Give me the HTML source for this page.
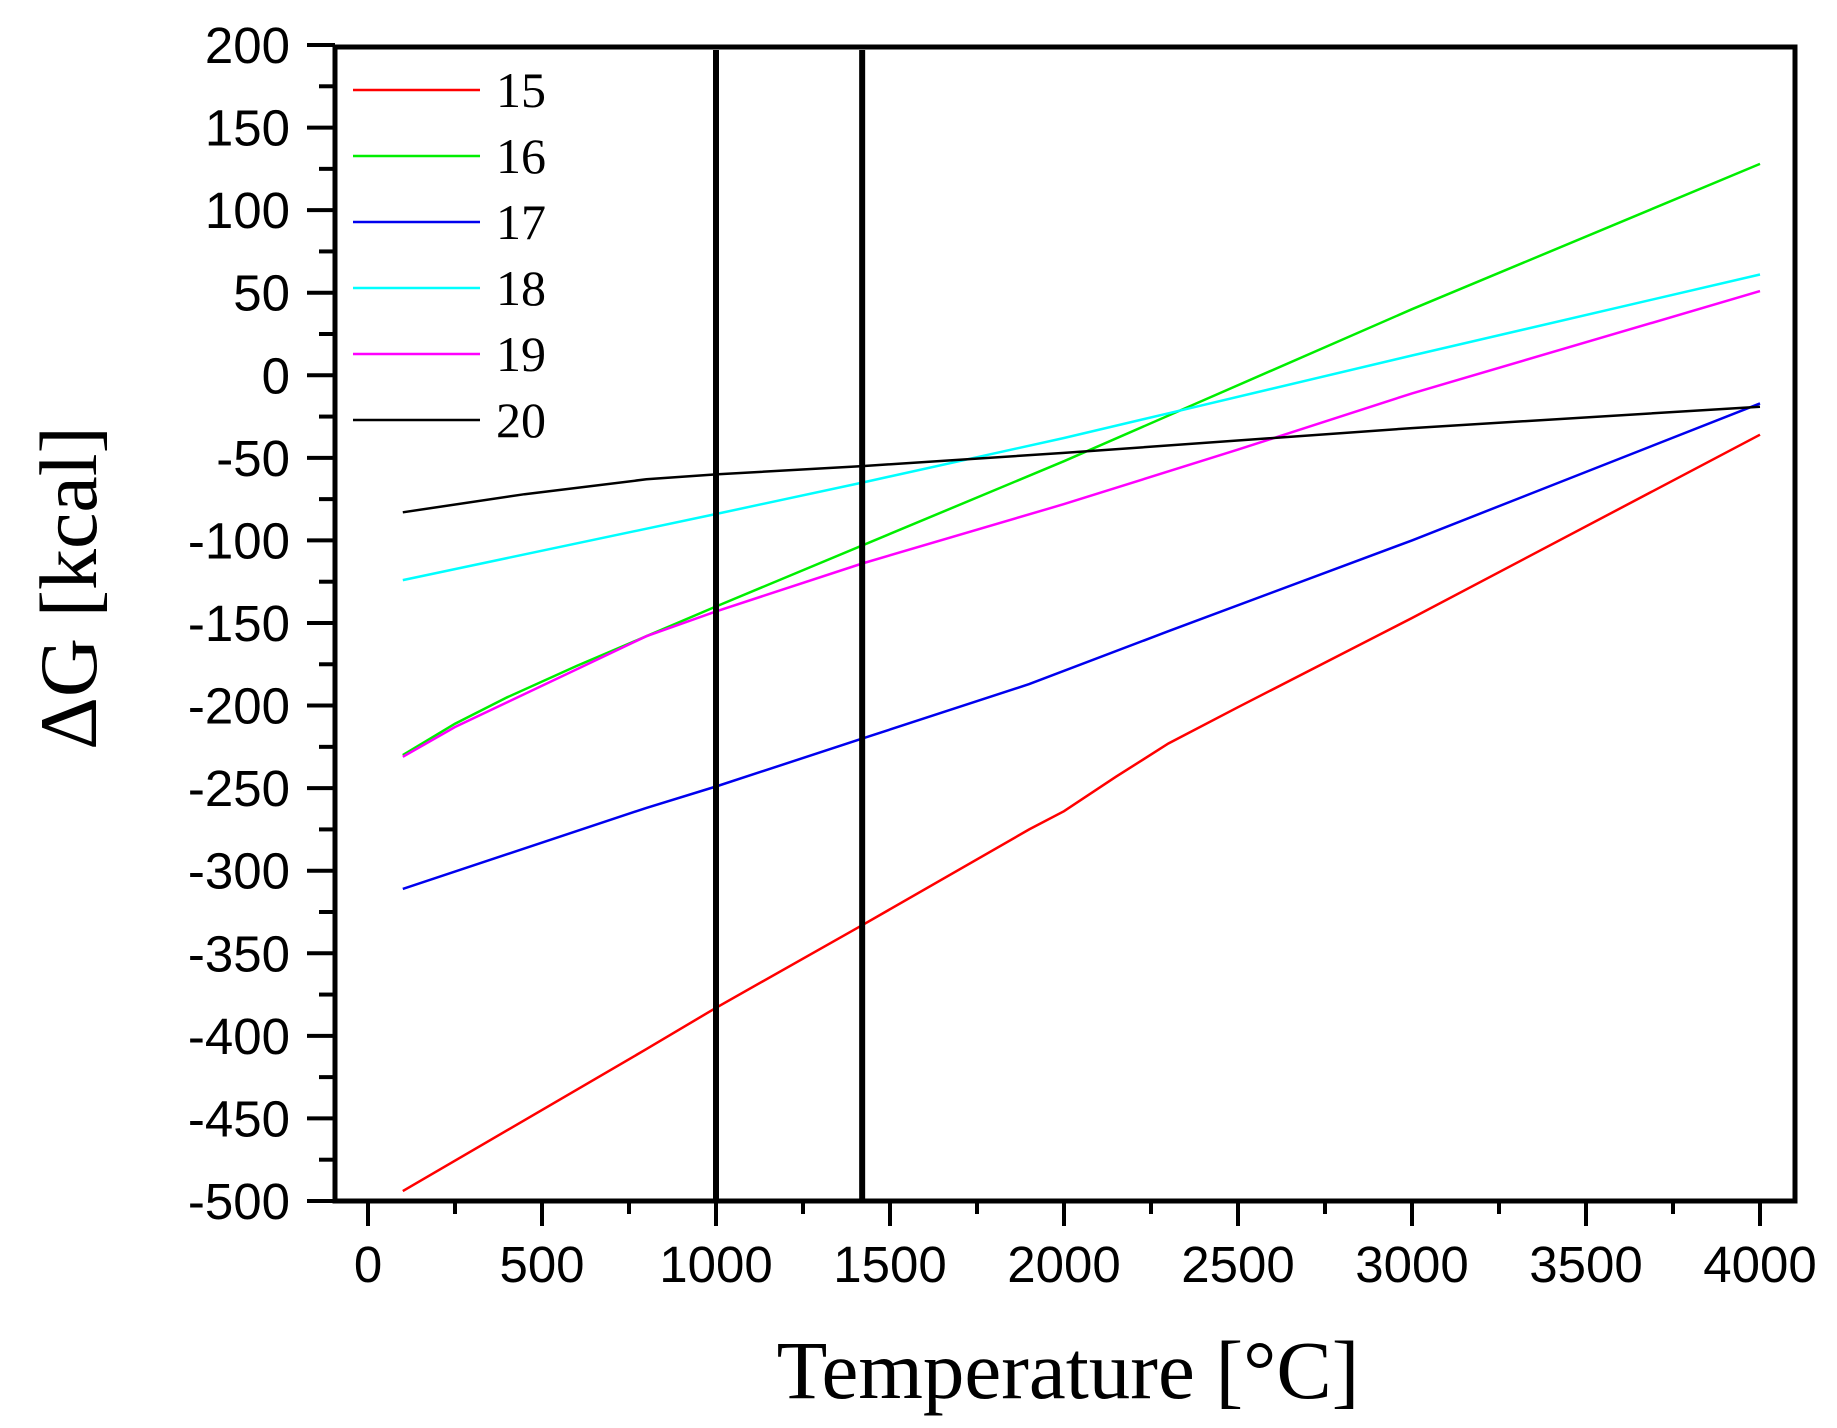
<!DOCTYPE html>
<html><head><meta charset="utf-8"><style>html,body{margin:0;padding:0;background:#fff}svg{display:block}</style></head>
<body>
<svg id="s" width="1837" height="1428" xmlns="http://www.w3.org/2000/svg"></svg>
<script>
const s=document.getElementById('s');
const X=v=>368+v*0.348, Y=v=>45+(200-v)*1.6514;
let h='';
const series=[
['#ff0000',[[100,-494],[800,-408],[1000,-383],[1420,-333],[1900,-275],[2000,-264],[2150,-243],[2300,-223],[2500,-201],[3000,-147],[4000,-36]]],
['#00ee00',[[100,-230],[250,-211],[400,-195],[600,-176],[800,-158],[1000,-140],[2000,-52],[3000,40],[4000,128]]],
['#0000ee',[[100,-311],[800,-262],[1000,-249],[1420,-220],[1900,-187],[2300,-155],[3000,-100],[4000,-17]]],
['#00ffff',[[100,-124],[1000,-84],[1420,-65],[2000,-38],[2300,-23],[3000,12],[4000,61]]],
['#ff00ff',[[100,-231],[250,-213],[400,-198],[600,-178],[800,-158],[1000,-143],[1420,-114],[2000,-78],[2500,-45],[3000,-11],[4000,51]]],
['#000000',[[100,-83],[450,-72],[800,-63],[1000,-60],[1420,-55],[2000,-47],[3000,-32],[4000,-19]]]];
series.forEach(([c,p])=>{h+=`<polyline fill="none" stroke="${c}" stroke-width="2.5" points="${p.map(q=>X(q[0]).toFixed(1)+','+Y(q[1]).toFixed(1)).join(' ')}"/>`;});
h+=`<line x1="${X(1000)}" y1="50" x2="${X(1000)}" y2="1201" stroke="#000" stroke-width="6"/>`;
h+=`<line x1="${X(1420)}" y1="50" x2="${X(1420)}" y2="1201" stroke="#000" stroke-width="6"/>`;
h+=`<rect x="335" y="47" width="1460" height="1154" fill="none" stroke="#000" stroke-width="5"/>`;
for(let v=-500;v<=200;v+=25){const y=Y(v),maj=v%50==0;h+=`<line x1="${maj?307:319}" y1="${y}" x2="335" y2="${y}" stroke="#000" stroke-width="4"/>`;
if(maj)h+=`<text x="290" y="${y+18}" text-anchor="end" font-family="Liberation Sans,sans-serif" font-size="51">${v}</text>`;}
for(let v=0;v<=4000;v+=250){const x=X(v),maj=v%500==0;h+=`<line x1="${x}" y1="1201" x2="${x}" y2="${maj?1226:1214}" stroke="#000" stroke-width="4"/>`;
if(maj)h+=`<text x="${x}" y="1282" text-anchor="middle" font-family="Liberation Sans,sans-serif" font-size="51">${v}</text>`;}
series.forEach(([c],i)=>{const y=90+i*66;h+=`<line x1="353" y1="${y}" x2="480" y2="${y}" stroke="${c}" stroke-width="2.5"/><text x="496" y="${y+17}" font-family="Liberation Serif,serif" font-size="50">${15+i}</text>`;});
h+=`<text x="1068" y="1398" text-anchor="middle" font-family="Liberation Serif,serif" font-size="83">Temperature [°C]</text>`;
h+=`<text transform="translate(96,588) rotate(-90)" text-anchor="middle" font-family="Liberation Serif,serif" font-size="82">ΔG [kcal]</text>`;
s.innerHTML=h;
</script>
</body></html>
